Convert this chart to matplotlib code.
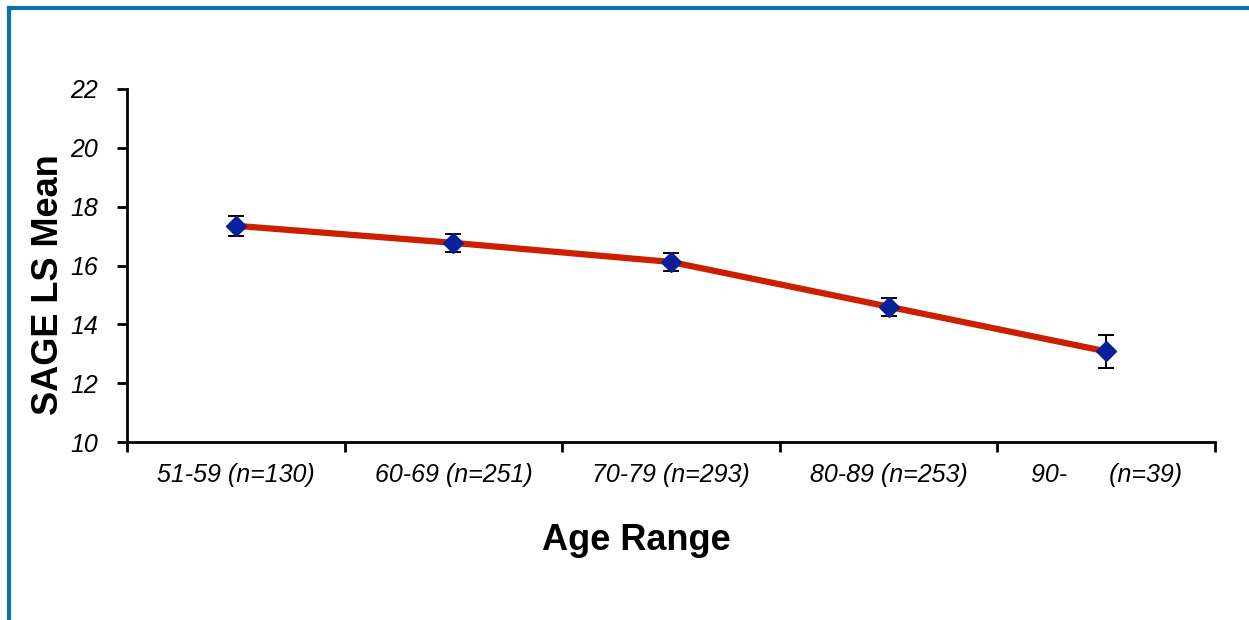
import matplotlib.pyplot as plt
import numpy as np
from matplotlib.lines import Line2D

# data
groups = ['51-59 (n=130)', '60-69 (n=251)', '70-79 (n=293)', '80-89 (n=253)', '90-      (n=39)']
means = [17.35, 16.77, 16.12, 14.6, 13.08]
errs = [0.34, 0.3, 0.3, 0.3, 0.57]

plt.rcParams['font.family'] = ['Liberation Sans', 'DejaVu Sans']

fig = plt.figure(figsize=(12.49, 6.2), dpi=100)
ax = fig.add_axes([127 / 1249, 1 - 442 / 620, 1088 / 1249, 353 / 620])

x = np.arange(len(groups))
ax.plot(x, means, color='#cc1f00', lw=4.5, zorder=2)
ax.errorbar(x, means, yerr=errs, fmt='none', ecolor='black', elinewidth=1.4,
            capsize=6, capthick=1.4, zorder=3)
ax.plot(x, means, 'D', color='#0a1f9a', ms=10.5, zorder=4)

ax.set_xlim(-0.5, len(groups) - 0.5)
ax.set_ylim(10, 22)
ax.set_yticks(np.arange(10, 23, 2))
ax.set_yticklabels([str(v) for v in range(10, 23, 2)], fontsize=18, style='italic')

# category boundaries as ticks, labels in the middle
ax.set_xticks(np.arange(-0.5, len(groups), 1.0))
ax.set_xticklabels([])
ax.set_xticks(x, minor=True)
ax.set_xticklabels(groups, minor=True, fontsize=18, style='italic')
ax.tick_params(axis='x', which='minor', length=0, pad=15)
ax.tick_params(axis='x', which='major', length=7, width=2, direction='out')
ax.tick_params(axis='y', length=7, width=2, direction='out', pad=14)

for s in ['top', 'right']:
    ax.spines[s].set_visible(False)
for s in ['left', 'bottom']:
    ax.spines[s].set_linewidth(2)

ax.set_ylabel('SAGE LS Mean', fontsize=26, fontweight='bold', va='center')
ax.yaxis.set_label_coords(-0.072, 0.445)
ax.set_xlabel('Age Range', fontsize=26, fontweight='bold', va='center')
ax.xaxis.set_label_coords(0.468, -0.28)

# frame around the slide
fig.add_artist(Line2D([9 / 1249, 1], [1 - 8 / 620, 1 - 8 / 620], color='#0a73a5', lw=3,
                      transform=fig.transFigure))
fig.add_artist(Line2D([9 / 1249, 9 / 1249], [0, 1 - 8 / 620], color='#0a73a5', lw=3,
                      transform=fig.transFigure))

fig.savefig('out.png', dpi=100)
